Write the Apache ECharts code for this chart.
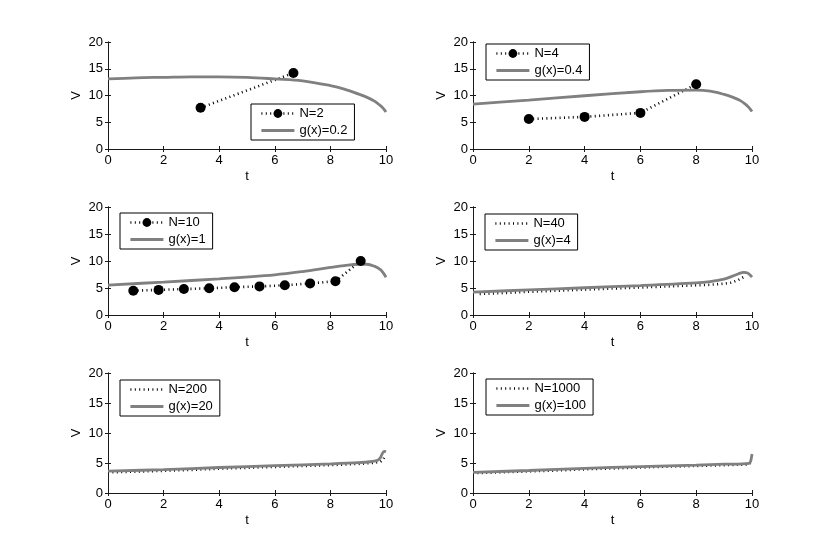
<!DOCTYPE html>
<html>
<head>
<meta charset="utf-8">
<script src="https://cdn.jsdelivr.net/npm/echarts@6/dist/echarts.min.js"></script>
<style>
  html, body { margin: 0; padding: 0; background: #fff; }
  #chart { width: 830px; height: 553px; }
</style>
</head>
<body>
<div id="chart"></div>
<script>
    // tick labels
    const tTicks = [0, 2, 4, 6, 8, 10]
    const vTicks = [0, 5, 10, 15, 20]

    // N=2 / g(x)=0.2
    const tN2 = [3.33, 6.67]
    const vN2 = [7.7, 14.2]
    const tG1 = [0, 1, 2, 3, 4, 5, 6, 7, 8, 8.5, 9, 9.3, 9.6, 9.8, 9.9, 10]
    const vG1 = [13.1, 13.3, 13.4, 13.5, 13.5, 13.4, 13.1, 12.75, 11.85, 11.2, 10.3, 9.7, 8.9, 8.1, 7.6, 6.9]

    // N=4 / g(x)=0.4
    const tN4 = [2, 4, 6, 8]
    const vN4 = [5.6, 6.0, 6.75, 12.1]
    const tG2 = [0, 2, 4, 6, 7, 8, 8.5, 9, 9.3, 9.6, 9.8, 9.9, 10]
    const vG2 = [8.4, 9.15, 9.95, 10.7, 10.95, 11.0, 10.8, 10.2, 9.7, 9.0, 8.2, 7.7, 7.0]

    // N=10 / g(x)=1
    const tN10 = [0.91, 1.82, 2.73, 3.64, 4.55, 5.45, 6.36, 7.27, 8.18, 9.09]
    const vN10 = [4.5, 4.65, 4.8, 4.95, 5.15, 5.3, 5.5, 5.85, 6.25, 10.0]
    const tG3 = [0, 2, 4, 6, 7, 8, 8.5, 9, 9.3, 9.6, 9.8, 9.9, 10]
    const vG3 = [5.55, 6.1, 6.7, 7.45, 8.05, 8.8, 9.15, 9.4, 9.4, 9.0, 8.4, 7.8, 7.0]

    // N=40 / g(x)=4
    const tN40 = [0.24, 1, 2, 3, 4, 5, 6, 7, 8, 8.5, 9, 9.27, 9.51, 9.76]
    const vN40 = [3.9, 4.05, 4.3, 4.5, 4.7, 4.9, 5.1, 5.3, 5.5, 5.6, 5.8, 6.0, 6.5, 7.2]
    const tG4 = [0, 2, 4, 6, 8, 8.5, 9, 9.3, 9.5, 9.7, 9.85, 10]
    const vG4 = [4.25, 4.65, 5.05, 5.45, 5.95, 6.2, 6.65, 7.2, 7.6, 7.9, 7.75, 7.0]

    // N=200 / g(x)=20
    const tN200 = [0, 1, 2, 3, 4, 5, 6, 7, 8, 9, 9.5, 9.8, 9.9, 9.95]
    const vN200 = [3.45, 3.55, 3.7, 3.85, 4.05, 4.2, 4.35, 4.5, 4.65, 4.85, 5.0, 5.2, 5.6, 6.0]
    const tG5 = [0, 2, 4, 6, 8, 9, 9.5, 9.7, 9.8, 9.85, 9.9, 9.95, 10]
    const vG5 = [3.65, 3.9, 4.25, 4.55, 4.85, 5.05, 5.25, 5.45, 5.9, 6.4, 6.8, 6.95, 6.9]

    // N=1000 / g(x)=100
    const tN1000 = [0, 1, 2, 3, 4, 5, 6, 7, 8, 9, 9.9, 9.99]
    const vN1000 = [3.3, 3.45, 3.6, 3.75, 3.95, 4.1, 4.25, 4.4, 4.5, 4.65, 4.75, 5.5]
    const tG6 = [0, 2, 4, 6, 8, 9, 9.9, 9.95, 9.98, 10]
    const vG6 = [3.45, 3.75, 4.1, 4.4, 4.65, 4.8, 4.95, 5.3, 5.9, 6.5]

    const panels = [
        { dots: 'N=2', line: 'g(x)=0.2', td: tN2, vd: vN2, tg: tG1, vg: vG1, marks: true },
        { dots: 'N=4', line: 'g(x)=0.4', td: tN4, vd: vN4, tg: tG2, vg: vG2, marks: true },
        { dots: 'N=10', line: 'g(x)=1', td: tN10, vd: vN10, tg: tG3, vg: vG3, marks: true },
        { dots: 'N=40', line: 'g(x)=4', td: tN40, vd: vN40, tg: tG4, vg: vG4, marks: false },
        { dots: 'N=200', line: 'g(x)=20', td: tN200, vd: vN200, tg: tG5, vg: vG5, marks: false },
        { dots: 'N=1000', line: 'g(x)=100', td: tN1000, vd: vN1000, tg: tG6, vg: vG6, marks: false }
    ]

    // plot boxes
    const boxes = [
        { left: 108, top: 42, width: 278, height: 107 },
        { left: 473, top: 42, width: 279, height: 107 },
        { left: 108, top: 207, width: 278, height: 108 },
        { left: 473, top: 207, width: 279, height: 108 },
        { left: 108, top: 373, width: 278, height: 120 },
        { left: 473, top: 373, width: 279, height: 120 }
    ]
    const legendPos = [
        { left: 251, top: 104 },
        { left: 486, top: 44 },
        { left: 120, top: 213 },
        { left: 485, top: 214 },
        { left: 120, top: 380 },
        { left: 486, top: 379 }
    ]

    const font = 'Liberation Sans, Arial, Helvetica, sans-serif'
    const axisColor = '#1a1a1a'
    const gray = '#808080'
    const dotLine = { color: '#000', width: 2.6, type: [1, 3.4] }
    const pairs = (t, v) => t.map((x, i) => [x, v[i]])

    const grid = [], xAxis = [], yAxis = [], series = [], legend = []

    panels.forEach((p, i) => {
        grid.push(Object.assign({ containLabel: false }, boxes[i]))
        const line = { show: true, lineStyle: { color: axisColor, width: 1 } }
        const tick = { show: true, inside: true, length: 3, lineStyle: { color: axisColor } }
        xAxis.push({
            type: 'value', gridIndex: i, min: tTicks[0], max: tTicks[tTicks.length - 1], interval: 2,
            name: 't', nameLocation: 'middle', nameGap: 21,
            nameTextStyle: { color: '#000', fontSize: 13, fontFamily: font },
            axisLine: line, axisTick: tick, splitLine: { show: false },
            axisLabel: { color: '#000', fontSize: 13, fontFamily: font, margin: 5 }
        })
        xAxis.push({
            type: 'value', gridIndex: i, position: 'top', min: 0, max: 10, interval: 2,
            axisLine: line, axisTick: tick, splitLine: { show: false }, axisLabel: { show: false }
        })
        yAxis.push({
            type: 'value', gridIndex: i, min: vTicks[0], max: vTicks[vTicks.length - 1], interval: 5,
            name: 'V', nameLocation: 'middle', nameGap: 25, nameRotate: 90,
            nameTextStyle: { color: '#000', fontSize: 13, fontFamily: font },
            axisLine: line, axisTick: tick, splitLine: { show: false },
            axisLabel: { color: '#000', fontSize: 13, fontFamily: font, margin: 5 }
        })
        yAxis.push({
            type: 'value', gridIndex: i, position: 'right', min: 0, max: 20, interval: 5,
            axisLine: line, axisTick: tick, splitLine: { show: false }, axisLabel: { show: false }
        })

        series.push({
            name: p.dots, type: 'line', xAxisIndex: 2 * i, yAxisIndex: 2 * i,
            data: pairs(p.td, p.vd),
            symbol: p.marks ? 'circle' : 'none', symbolSize: 10, showSymbol: p.marks,
            itemStyle: { color: '#000' },
            lineStyle: dotLine,
            animation: false, silent: true
        })
        series.push({
            name: p.line, type: 'line', xAxisIndex: 2 * i, yAxisIndex: 2 * i,
            data: pairs(p.tg, p.vg), smooth: 0.35,
            symbol: 'none', showSymbol: false,
            itemStyle: { color: gray },
            lineStyle: { color: gray, width: 2.8 },
            animation: false, silent: true
        })

        legend.push({
            data: [
                {
                    name: p.dots,
                    itemStyle: p.marks ? { color: '#000' } : { opacity: 0 },
                    lineStyle: dotLine
                },
                {
                    name: p.line,
                    itemStyle: { opacity: 0 },
                    lineStyle: { color: gray, width: 2.8 }
                }
            ],
            orient: 'vertical',
            left: legendPos[i].left, top: legendPos[i].top,
            itemWidth: 33, itemHeight: 11, itemGap: 4,
            padding: [3, 7, 3, 9],
            backgroundColor: '#fff', borderColor: '#000', borderWidth: 1, borderRadius: 0,
            textStyle: { color: '#000', fontSize: 13, fontFamily: font },
            selectedMode: false
        })
    })

    const chart = echarts.init(document.getElementById('chart'), null, { renderer: 'canvas' })
    chart.setOption({
        backgroundColor: '#fff',
        animation: false,
        grid: grid,
        xAxis: xAxis,
        yAxis: yAxis,
        legend: legend,
        series: series
    })
</script>
</body>
</html>
